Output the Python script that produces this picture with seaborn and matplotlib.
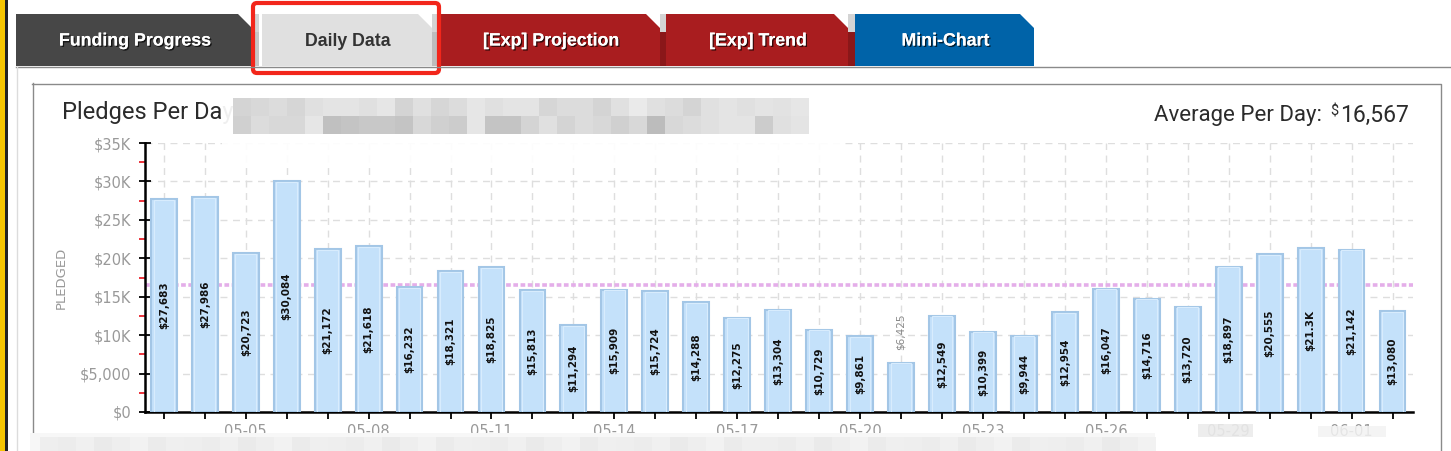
# Daily pledges bar chart (Daily Data tab)
import matplotlib
matplotlib.use("Agg")
import matplotlib.pyplot as plt
import matplotlib.patheffects as pe
from matplotlib.patches import Polygon, Rectangle, FancyBboxPatch
import pandas as pd
import seaborn as sns

# data
dates = ["05-03", "05-04", "05-05", "05-06", "05-07", "05-08", "05-09", "05-10",
         "05-11", "05-12", "05-13", "05-14", "05-15", "05-16", "05-17", "05-18",
         "05-19", "05-20", "05-21", "05-22", "05-23", "05-24", "05-25", "05-26",
         "05-27", "05-28", "05-29", "05-30", "05-31", "06-01", "06-02"]
pledged = [27683, 27986, 20723, 30084, 21172, 21618, 16232, 18321, 18825, 15813,
           11294, 15909, 15724, 14288, 12275, 13304, 10729, 9861, 6425, 12549,
           10399, 9944, 12954, 16047, 14716, 13720, 18897, 20555, 21300, 21142, 13080]
bar_labels = ["$27,683", "$27,986", "$20,723", "$30,084", "$21,172", "$21,618",
              "$16,232", "$18,321", "$18,825", "$15,813", "$11,294", "$15,909",
              "$15,724", "$14,288", "$12,275", "$13,304", "$10,729", "$9,861",
              "$6,425", "$12,549", "$10,399", "$9,944", "$12,954", "$16,047",
              "$14,716", "$13,720", "$18,897", "$20,555", "$21.3K", "$21,142", "$13,080"]
average_per_day = 16567
y_ticks = [0, 5000, 10000, 15000, 20000, 25000, 30000, 35000]
y_tick_labels = ["$0", "$5,000", "$10K", "$15K", "$20K", "$25K", "$30K", "$35K"]
tab_names = ["Funding Progress", "Daily Data", "[Exp] Projection", "[Exp] Trend", "Mini-Chart"]

W, H = 1451, 451
fig = plt.figure(figsize=(W / 100, H / 100), dpi=100)

# background layer in pixel coordinates
bg = fig.add_axes([0, 0, 1, 1], zorder=0)
bg.set_xlim(0, W)
bg.set_ylim(H, 0)
bg.axis("off")

# yellow page edge
bg.add_patch(Rectangle((0, 0), 5, H, color="#f5c400", lw=0))
bg.add_patch(Rectangle((5, 0), 3, H, color="#222222", lw=0))

# tabs
tabs = [
    (16, 252, "#474747", "#c6c6c6", "white"),
    (262, 432, "#e0e0e0", "#bdbdbd", "#333333"),
    (440, 660, "#a91d1f", "#8a1719", "white"),
    (666, 848, "#a91d1f", "#8a1719", "white"),
    (855, 1034, "#0063a8", None, "white"),
]
for (x0, x1, col, strip, tcol), name in zip(tabs, tab_names):
    bg.add_patch(Polygon([(x0, 14), (x1 - 14, 14), (x1, 28), (x1, 66), (x0, 66)],
                         closed=True, color=col, lw=0))
    if strip is not None:
        bg.add_patch(Rectangle((x1, 14), 7, 18, color="#d4d4d4", lw=0))
        bg.add_patch(Rectangle((x1, 32), 7, 34, color=strip, lw=0))
    t = bg.text((x0 + x1) / 2 + 1, 41, name, ha="center", va="center", fontsize=12.8,
                fontweight="bold", family="Liberation Sans", color=tcol)
    if tcol == "white":
        t.set_path_effects([pe.withSimplePatchShadow(offset=(1, -1), shadow_rgbFace="black", alpha=0.7),
                            pe.Normal()])

# highlight box around the active tab
bg.add_patch(FancyBboxPatch((253, 3), 186, 70, boxstyle="round,pad=0,rounding_size=4",
                            fill=False, ec="#f2261b", lw=3))

# panel lines
bg.plot([16, W], [66.5, 66.5], color="#8a8a8a", lw=1)
bg.plot([17, 17], [67, H], color="#dcdcdc", lw=1)
bg.plot([32, 1441, 1441], [83.5, 83.5, H], color="#8a8a8a", lw=1)
bg.plot([32.5, 32.5], [83, H], color="#8a8a8a", lw=1)

# title and average
bg.text(62, 113, "Pledges Per Day", fontsize=17, family="Roboto", color="#2b2b2b", va="center")
t1 = bg.text(1409, 115, "16,567", fontsize=16.5, family="Roboto", color="#2b2b2b",
             ha="right", va="center")
t2 = bg.annotate("$", xy=(0, 0.95), xycoords=t1, xytext=(-1, 0), textcoords="offset points",
                 ha="right", va="top", fontsize=10.5, family="Roboto", color="#2b2b2b")
bg.annotate("Average Per Day:", xy=(0, 0), xycoords=(t2, t1), xytext=(-6, 0),
            textcoords="offset points", ha="right", va="bottom", fontsize=16,
            family="Roboto", color="#2b2b2b")

# main chart
ax = fig.add_axes([145 / W, (H - 412) / H, (1413 - 145) / W, 269 / H], zorder=1)
ax.set_facecolor("none")
df = pd.DataFrame({"date": dates, "pledged": pledged})
sns.barplot(data=df, x="date", y="pledged", color="#c4e1fa", saturation=1, width=0.63,
            edgecolor="#a3c6e6", linewidth=1.5, ax=ax, zorder=3)

# soft inner bevel on each bar
for p in ax.patches:
    x, w, h = p.get_x(), p.get_width(), p.get_height()
    ax.add_patch(Rectangle((x + w * 0.1, 0), w * 0.8, h * 0.995, fill=False,
                           ec="#d8ecfd", lw=0.8, zorder=3.5))

ax.axhline(average_per_day, color="#e4aee9", lw=2.6, linestyle=(0, (1.3, 0.7)), zorder=2)

for i, (v, lbl) in enumerate(zip(pledged, bar_labels)):
    if v > 8000:
        ax.text(i, v / 2, lbl, rotation=90, ha="center", va="center", fontsize=7.5,
                fontweight="bold", color="#111111", zorder=4)
    else:
        ax.annotate(lbl, xy=(i, v), xytext=(0, 9), textcoords="offset points",
                    rotation=90, ha="center", va="bottom", fontsize=7.5,
                    color="#888888", zorder=4)

ax.set_xlim(-0.46, 30.5)
ax.set_ylim(0, 35000)
ax.set_xticks(range(len(dates)))
ax.set_xticklabels([d if i % 3 == 2 else "" for i, d in enumerate(dates)])
ax.set_yticks(y_ticks)
ax.set_yticklabels(y_tick_labels)
ax.set_yticks([y + 2500 for y in y_ticks[:-1]], minor=True)
ax.tick_params(axis="y", which="major", direction="inout", length=8, width=1.3,
               color="black", labelsize=10.5, labelcolor="#999999", pad=6)
ax.tick_params(axis="y", which="minor", direction="out", length=4, width=1.2, color="#e8101a")
ax.tick_params(axis="x", direction="out", length=5, width=1.3, color="black",
               labelsize=10.5, labelcolor="#999999", pad=4)
ax.set_xlabel("")
ax.set_ylabel("PLEDGED", color="#999999", fontsize=9.5)
ax.yaxis.set_label_coords(-0.061, 0.5)

ax.grid(True, which="major", color="#dedede", linestyle=(0, (5, 4)), lw=1)
ax.set_axisbelow(True)
sns.despine(ax=ax)
for s in ["left", "bottom"]:
    ax.spines[s].set_color("black")
    ax.spines[s].set_linewidth(1.8)

# overlay: the blurred parts of the screenshot
ov = fig.add_axes([0, 0, 1, 1], zorder=2)
ov.set_xlim(0, W)
ov.set_ylim(H, 0)
ov.axis("off")
ov.patch.set_alpha(0)

ov.add_patch(FancyBboxPatch((222, 92), 620, 72, boxstyle="round,pad=0,rounding_size=14",
                            color="white", alpha=0.93, lw=0))
row1 = ["#d4d4d4", "#d8d8d8", "#dcdcdc", "#d6d6d6", "#e0e0e0", "#e4e4e4", "#e4e4e4", "#e0e0e0",
        "#e6e6e6", "#d4d4d4", "#e0e0e0", "#d6d6d6", "#dcdcdc", "#e6e6e6", "#e0e0e0", "#e4e4e4",
        "#e4e4e4", "#d6d6d6", "#dcdcdc", "#dcdcdc", "#d4d4d4", "#e0e0e0", "#eaeaea", "#e0e0e0",
        "#dcdcdc", "#d4d4d4", "#e0e0e0", "#e4e4e4", "#e0e0e0", "#e4e4e4", "#e2e2e2", "#e6e6e6"]
row2 = ["#d0d0d0", "#dcdcdc", "#d8d8d8", "#d8d8d8", "#e6e6e6", "#c0c0c0", "#c4c4c4", "#c8c8c8",
        "#c8c8c8", "#c4c4c4", "#d8d8d8", "#d0d0d0", "#cccccc", "#e6e6e6", "#c4c4c4", "#c4c4c4",
        "#d4d4d4", "#e0e0e0", "#d4d4d4", "#dcdcdc", "#d8d8d8", "#d0d0d0", "#d8d8d8", "#bcbcbc",
        "#d8d8d8", "#dcdcdc", "#e0e0e0", "#e4e4e4", "#e4e4e4", "#cccccc", "#e0e0e0", "#e4e4e4"]
cell = 18
for j, c in enumerate(row1):
    ov.add_patch(Rectangle((233 + j * cell, 98), cell, 18, color=c, lw=0))
for j, c in enumerate(row2):
    ov.add_patch(Rectangle((233 + j * cell, 116), cell, 18, color=c, lw=0))

ov.add_patch(Rectangle((30, 433), 1125, 18, color="#f7f7f7", lw=0))
bottom = ["#eeeeee", "#ececec", "#f0f0f0", "#eaeaea", "#eeeeee", "#f2f2f2", "#ebebeb", "#efefef"]
for j in range(62):
    ov.add_patch(Rectangle((40 + j * 18, 437), 18, 14, color=bottom[j % len(bottom)], lw=0))
ov.add_patch(Rectangle((1198, 424), 55, 13, color="#ebebeb", alpha=0.9, lw=0))
ov.add_patch(Rectangle((1318, 426), 68, 11, color="#f3f3f3", alpha=0.85, lw=0))

fig.savefig("out.png", dpi=100)
